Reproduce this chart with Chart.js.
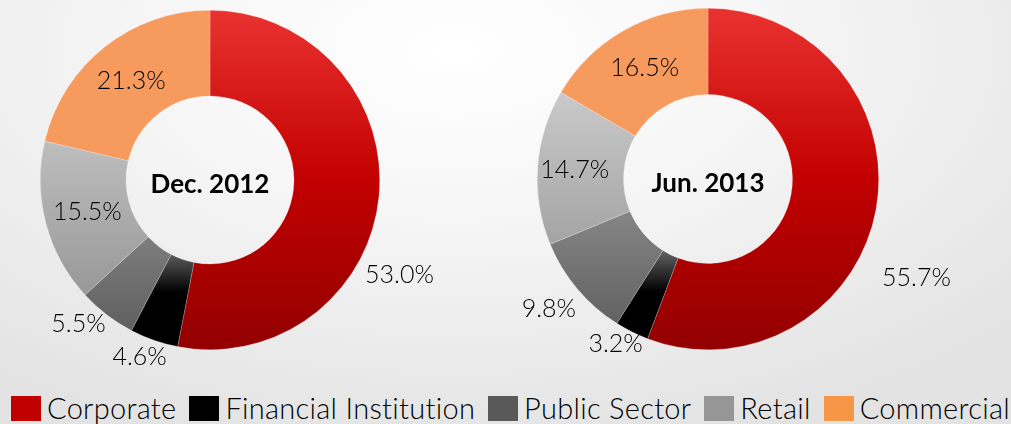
<!DOCTYPE html>
<html>
<head>
<meta charset="utf-8">
<script src="https://cdn.jsdelivr.net/npm/chart.js@4"></script>
<style>
  html, body { margin:0; padding:0; }
  body {
    width:1011px; height:424px; overflow:hidden; position:relative;
    background: radial-gradient(ellipse 75% 95% at 45% 12%, #ffffff 0%, #f6f6f6 40%, #ebebeb 75%, #e3e3e3 100%);
    font-family: "Lato", "Open Sans", sans-serif;
  }
  .box { position:absolute; }
  #legend {
    position:absolute; left:11px; right:1px; top:394px; height:28px;
    display:flex; justify-content:space-between; align-items:center;
  }
  .item { display:flex; align-items:center; }
  .sw { width:30px; height:25px; margin-right:6px; }
  .lab { font-size:29px; color:#000; font-weight:300; line-height:28px; letter-spacing:0.3px; }
</style>
</head>
<body>
<div class="box" style="left:0;top:0;width:440px;height:380px;"><canvas id="c1"></canvas></div>
<div class="box" style="left:500px;top:0;width:500px;height:380px;"><canvas id="c2"></canvas></div>
<div id="legend"></div>
<script>
// ---- data ----
const categories = ["Corporate", "Financial Institution", "Public Sector", "Retail", "Commercial"];
const dec2012 = [53.0, 4.6, 5.5, 15.5, 21.3];
const jun2013 = [55.7, 3.2, 9.8, 14.7, 16.5];
const chartTitles = ["Dec. 2012", "Jun. 2013"];

// ---- styles ----
const legendColors = ["#C00000", "#000000", "#595959", "#969696", "#F79646"];
// vertical gradient stops (fraction of chart height) per category
const sliceStops = [
  [[0, "#E93330"], [0.5, "#C20000"], [1, "#930000"]],
  [[0, "#5a5a5a"], [0.72, "#5a5a5a"], [0.83, "#000000"], [1, "#000000"]],
  [[0, "#8e8e8e"], [0.6, "#858585"], [0.97, "#5c5c5c"]],
  [[0, "#cccccc"], [0.25, "#c9c9c9"], [0.85, "#979797"], [1, "#909090"]],
  [[0, "#F79A5D"], [1, "#F79A5D"]]
];

function sliceColor(ctx) {
  const i = ctx.dataIndex;
  const chart = ctx.chart;
  const a = chart.chartArea;
  if (!a || i === undefined) return legendColors[i || 0];
  const g = chart.ctx.createLinearGradient(0, a.top, 0, a.bottom);
  sliceStops[i].forEach(s => g.addColorStop(s[0], s[1]));
  return g;
}

const labelPlugin = {
  id: 'sliceLabels',
  afterDatasetsDraw(chart, args, opts) {
    const ctx = chart.ctx;
    const meta = chart.getDatasetMeta(0);
    const data = chart.data.datasets[0].data;
    ctx.save();
    ctx.font = '300 25px "Lato", "Open Sans", sans-serif';
    ctx.fillStyle = '#000';
    ctx.textAlign = 'center';
    ctx.textBaseline = 'middle';
    meta.data.forEach((arc, i) => {
      const p = arc.getProps(['x','y','startAngle','endAngle','innerRadius','outerRadius'], true);
      const pl = opts.place[i];
      let ang = (p.startAngle + p.endAngle) / 2 + (pl.da || 0) * Math.PI / 180;
      let r = pl.out ? p.outerRadius + pl.dr : (p.innerRadius + p.outerRadius) / 2 + (pl.dr || 0);
      const x = p.x + Math.cos(ang) * r;
      const y = p.y + Math.sin(ang) * r;
      ctx.fillText(data[i].toFixed(1) + '%', x, y);
    });
    // center title
    const a0 = meta.data[0];
    ctx.font = 'bold 26px "Lato", "Open Sans", sans-serif';
    ctx.fillStyle = '#000';
    ctx.fillText(opts.title, a0.x, a0.y + 5);
    ctx.restore();
  }
};

function makeChart(id, values, title, padding, place) {
  return new Chart(document.getElementById(id), {
    type: 'doughnut',
    data: {
      labels: categories,
      datasets: [{
        data: values,
        backgroundColor: sliceColor,
        borderColor: 'rgba(255,255,255,0.35)',
        borderWidth: 0.6
      }]
    },
    options: {
      responsive: true,
      maintainAspectRatio: false,
      animation: false,
      cutout: '49.5%',
      layout: { padding: padding },
      plugins: {
        legend: { display: false },
        tooltip: { enabled: false },
        sliceLabels: { title: title, place: place }
      }
    },
    plugins: [labelPlugin]
  });
}

makeChart('c1', dec2012, chartTitles[0],
  { left: 40, right: 60, top: 10, bottom: 30 },
  [ {out:true, dr:42, da:21}, {out:true, dr:21, da:2.4}, {out:true, dr:25, da:5}, {out:false}, {out:false} ]);

makeChart('c2', jun2013, chartTitles[1],
  { left: 37, right: 121, top: 8, bottom: 30 },
  [ {out:true, dr:60, da:15}, {out:true, dr:18, da:2.8}, {out:true, dr:35, da:0.8}, {out:false, dr:6}, {out:false} ]);

// legend
const lg = document.getElementById('legend');
categories.forEach((c, i) => {
  const it = document.createElement('div'); it.className = 'item';
  const sw = document.createElement('div'); sw.className = 'sw'; sw.style.background = legendColors[i];
  const lb = document.createElement('span'); lb.className = 'lab'; lb.textContent = c;
  it.appendChild(sw); it.appendChild(lb); lg.appendChild(it);
});
</script>
</body>
</html>
